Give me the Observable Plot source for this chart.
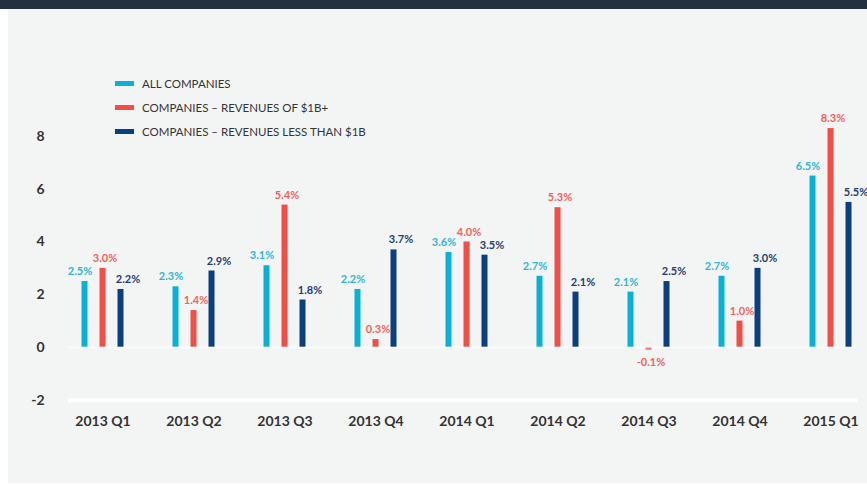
<!DOCTYPE html>
<html>
<head>
<meta charset="utf-8">
<script src="https://cdn.jsdelivr.net/npm/d3@7"></script>
<script src="https://cdn.jsdelivr.net/npm/@observablehq/plot@0.6"></script>
<style>
  html, body { margin: 0; padding: 0; background: #ffffff; width: 867px; height: 485px; overflow: hidden; font-family: Lato, "Open Sans", sans-serif; }
  #topbar { position: absolute; left: 0; top: 0; width: 867px; height: 9px; background: #223040; }
  #panel { position: absolute; left: 8px; top: 9px; width: 859px; height: 474px; background: #f3f4f4; }
  #chart { position: absolute; left: 0; top: 9px; width: 867px; height: 474px; }
  #legend { position: absolute; left: 115px; top: 71px; }
  .item { display: flex; align-items: center; height: 24px; font-size: 11.5px; color: #353535; }
  .swatch { width: 19px; height: 5px; margin-right: 8px; }
</style>
</head>
<body>
<div id="topbar"></div>
<div id="panel"></div>
<div id="chart"></div>
<div id="legend"></div>
<script>
const quarters = ["2013 Q1", "2013 Q2", "2013 Q3", "2013 Q4", "2014 Q1", "2014 Q2", "2014 Q3", "2014 Q4", "2015 Q1"];
const series = ["ALL COMPANIES", "COMPANIES – REVENUES OF $1B+", "COMPANIES – REVENUES LESS THAN $1B"];
const allCompanies   = [2.5, 2.3, 3.1, 2.2, 3.6, 2.7, 2.1, 2.7, 6.5];
const bigCompanies   = [3.0, 1.4, 5.4, 0.3, 4.0, 5.3, -0.1, 1.0, 8.3];
const smallCompanies = [2.2, 2.9, 1.8, 3.7, 3.5, 2.1, 2.5, 3.0, 5.5];
const yTicks = [-2, 0, 2, 4, 6, 8];
const barColors = ["#0bb1d4", "#f04e47", "#0b3f7e"];
const labelColors = ["#30b6d8", "#f1625c", "#1f3f70"];
const barDx = [-18, 0, 18];
const labelDx = [-5, 2, 7];

const seriesValues = [allCompanies, bigCompanies, smallCompanies];

function seriesMarks(k) {
  const d = quarters.map((q, i) => ({q, s: series[k], v: seriesValues[k][i]}));
  const common = {x: "q", y: "v", text: r => r.v.toFixed(1).replace("\u2212", "-") + "%", fill: labelColors[k],
    fontWeight: "bold", fontSize: 11, dx: barDx[k] + labelDx[k]};
  return [
    Plot.barY(d, {x: "q", y: "v", fill: barColors[k], insetLeft: 42.5, insetRight: 42.5, dx: barDx[k]}),
    Plot.text(d.filter(r => r.v >= 0), {...common, dy: -10}),
    Plot.text(d.filter(r => r.v < 0), {...common, dy: 12})
  ];
}

const chart = Plot.plot({
  width: 867,
  height: 474,
  marginLeft: 57,
  marginRight: 0,
  marginTop: 127,
  marginBottom: 83.25,
  style: {background: "transparent", fontFamily: "Lato, 'Open Sans', sans-serif", overflow: "visible"},
  x: {domain: quarters, range: [57, 876], paddingInner: 0, paddingOuter: 0, label: null},
  y: {domain: [-2, 8], label: null},
  marks: [
    Plot.ruleY([-2], {stroke: "#ffffff", strokeWidth: 4, insetLeft: 11, insetRight: 10}),
    ...seriesMarks(0), ...seriesMarks(1), ...seriesMarks(2),
    Plot.ruleY([0], {stroke: "#ffffff", strokeWidth: 2, strokeOpacity: 0.6, insetLeft: 11, insetRight: 10}),
    Plot.axisY({ticks: yTicks, tickFormat: d => String(d), tickSize: 0, tickPadding: 13, fontWeight: "bold", fontSize: 14, fill: "#333333", label: null}),
    Plot.axisX({tickSize: 0, tickPadding: 16, fontWeight: "bold", fontSize: 14, fill: "#333333", label: null})
  ]
});
document.getElementById("chart").appendChild(chart);

const legend = document.getElementById("legend");
series.forEach((s, k) => {
  const item = document.createElement("div");
  item.className = "item";
  const sw = document.createElement("span");
  sw.className = "swatch";
  sw.style.background = barColors[k];
  const t = document.createElement("span");
  t.textContent = s;
  item.appendChild(sw);
  item.appendChild(t);
  legend.appendChild(item);
});
</script>
</body>
</html>
